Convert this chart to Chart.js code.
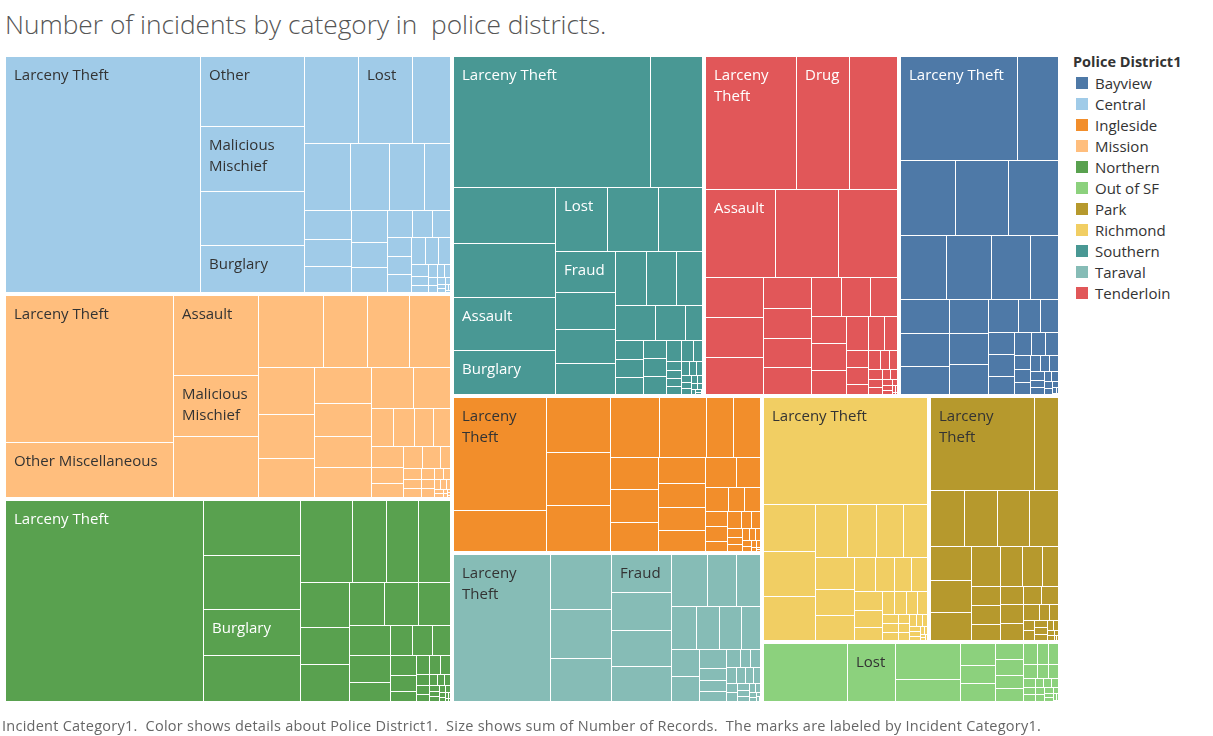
<!DOCTYPE html>
<html><head><meta charset="utf-8">
<script src="https://cdn.jsdelivr.net/npm/chart.js@4.4.0/dist/chart.umd.min.js"></script>
<style>
html,body{margin:0;padding:0;background:#fff;width:1213px;height:736px;overflow:hidden;font-family:"Open Sans",sans-serif;}
#title{position:absolute;left:5px;top:11px;font-size:26.3px;line-height:26.3px;font-weight:300;color:#555;white-space:pre;}
#wrap{position:absolute;left:0;top:0;width:1064px;height:736px;}
#legend{position:absolute;left:1073px;top:0;width:140px;height:320px;}
.lt{position:absolute;left:0;top:54px;font-size:14.5px;line-height:16px;font-weight:bold;color:#333;white-space:nowrap;}
.li{position:absolute;left:0;height:21px;font-size:15px;line-height:21px;color:#333;white-space:nowrap;}
.sw{position:absolute;left:3px;top:4px;width:12px;height:12px;}
.li span.tx{position:absolute;left:22px;top:0;}
#footer{position:absolute;left:2px;top:719px;font-size:14.5px;line-height:14.5px;letter-spacing:0.25px;color:#666;white-space:pre;}
</style></head>
<body>
<div id="title">Number of incidents by category in  police districts.</div>
<div id="wrap"><canvas id="c" width="1064" height="736"></canvas></div>
<div id="legend"></div>
<div id="footer">Incident Category1.  Color shows details about Police District1.  Size shows sum of Number of Records.  The marks are labeled by Incident Category1.</div>
<script>
// ---- data ----
const legendDistricts = ['Bayview','Central','Ingleside','Mission','Northern','Out of SF','Park','Richmond','Southern','Taraval','Tenderloin'];
const districtColors = ['#4e79a7','#a0cbe8','#f28e2b','#ffbe7d','#59a14f','#8cd17d','#b6992d','#f1ce63','#499894','#86bcb6','#e15759'];
const labelColors = ['#ffffff','#333333','#333333','#333333','#ffffff','#333333','#333333','#333333','#ffffff','#333333','#ffffff'];

const centralCategories = ['Larceny Theft','Other','Malicious Mischief','Motor Vehicle Theft','Burglary','Non-Criminal','Lost','Warrant','Assault','Robbery','Fraud','Drug','Suspicious Occ','Recovered Vehicle','Missing Person','Disorderly Conduct','Other Offenses','Miscellaneous Investigation','Stolen Property','Traffic Violation Arrest','Weapons Offense','Vandalism','Forgery And Counterfeiting','Offences Against The Family And Children','Case Closure','Courtesy Report','Fire Report','Traffic Collision','Embezzlement','Sex Offense','Prostitution','Arson','Vehicle Misplaced','Vehicle Impounded','Liquor Laws','Rape','Homicide','Gambling','Human Trafficking','Suicide','Civil Sidewalks','Weapons Carrying Etc'];
const centralValues = [45396,7249,6656,5616,4826,4670,4650,3254,3050,2586,2321,1704,1363,1269,1189,1152,900,875,667,548,478,450,419,418,386,343,324,208,156,109,108,96,80,70,60,50,40,30,25,18,12,8];

const missionCategories = ['Larceny Theft','Other Miscellaneous','Assault','Malicious Mischief','Non-Criminal','Burglary','Motor Vehicle Theft','Warrant','Robbery','Recovered Vehicle','Suspicious Occ','Missing Person','Disorderly Conduct','Lost','Other','Miscellaneous Investigation','Fraud','Drug','Other Offenses','Stolen Property','Traffic Violation Arrest','Weapons Offense','Vandalism','Offences Against The Family And Children','Forgery And Counterfeiting','Case Closure','Courtesy Report','Fire Report','Traffic Collision','Prostitution','Embezzlement','Sex Offense','Arson','Vehicle Misplaced','Vehicle Impounded','Liquor Laws','Rape','Homicide','Gambling','Human Trafficking','Suicide','Civil Sidewalks','Weapons Carrying Etc','Juvenile Offenses','Bad Checks','Loitering'];
const missionValues = [24400,9147,6775,5160,5100,4635,3137,2995,2973,2635,2395,2156,2080,1874,1776,1700,1690,1540,829,792,716,667,629,496,425,405,400,210,200,165,147,145,130,110,95,80,65,55,45,35,28,20,15,10,7,5];

const northernCategories = ['Larceny Theft','Other Miscellaneous','Malicious Mischief','Burglary','Recovered Vehicle','Non-Criminal','Other','Lost','Drug','Warrant','Robbery','Suspicious Occ','Fraud','Other Offenses','Missing Person','Assault','Motor Vehicle Theft','Disorderly Conduct','Miscellaneous Investigation','Stolen Property','Traffic Violation Arrest','Weapons Offense','Vandalism','Offences Against The Family And Children','Forgery And Counterfeiting','Case Closure','Courtesy Report','Fire Report','Traffic Collision','Embezzlement','Sex Offense','Prostitution','Arson','Vehicle Misplaced','Vehicle Impounded','Liquor Laws','Rape','Homicide','Gambling','Human Trafficking','Suicide','Civil Sidewalks','Weapons Carrying Etc','Juvenile Offenses'];
const northernValues = [39519,5306,5238,4462,4433,4248,2690,2640,2620,2191,1802,1787,1507,1452,1353,1251,1115,772,667,576,567,500,400,242,238,201,196,150,120,100,90,80,70,60,50,45,40,35,30,25,20,15,10,7];

const southernCategories = ['Larceny Theft','Non-Criminal','Other Miscellaneous','Malicious Mischief','Assault','Burglary','Lost','Robbery','Other','Fraud','Warrant','Motor Vehicle Theft','Recovered Vehicle','Drug','Suspicious Occ','Missing Person','Vandalism','Disorderly Conduct','Other Offenses','Stolen Property','Miscellaneous Investigation','Traffic Violation Arrest','Weapons Offense','Offences Against The Family And Children','Forgery And Counterfeiting','Case Closure','Courtesy Report','Fire Report','Traffic Collision','Embezzlement','Sex Offense','Prostitution','Arson','Vehicle Misplaced','Vehicle Impounded','Liquor Laws','Rape','Homicide','Gambling','Human Trafficking','Suicide','Civil Sidewalks','Weapons Carrying Etc','Juvenile Offenses','Bad Checks','Loitering'];
const southernValues = [25643,6657,5617,5416,5316,4383,3312,3249,2720,2466,2209,2012,1851,1690,1566,1388,1380,1037,562,533,528,469,410,405,400,325,243,187,131,130,125,115,100,90,80,70,60,55,45,40,35,28,20,15,10,5];

const tenderloinCategories = ['Larceny Theft','Drug','Non-Criminal','Assault','Other Miscellaneous','Malicious Mischief','Burglary','Robbery','Warrant','Lost','Other','Fraud','Suspicious Occ','Motor Vehicle Theft','Recovered Vehicle','Missing Person','Disorderly Conduct','Other Offenses','Stolen Property','Weapons Offense','Miscellaneous Investigation','Traffic Violation Arrest','Prostitution','Vandalism','Offences Against The Family And Children','Forgery And Counterfeiting','Case Closure','Courtesy Report','Fire Report','Traffic Collision','Embezzlement','Sex Offense','Arson','Vehicle Misplaced','Vehicle Impounded','Liquor Laws','Rape','Homicide','Gambling','Human Trafficking','Suicide'];
const tenderloinValues = [12090,7025,6398,6113,5525,5148,2310,2300,2118,1488,1440,1392,1282,1161,1122,1033,955,945,830,755,549,436,389,359,230,228,160,157,130,110,90,80,70,60,50,40,30,22,15,8,4];

const bayviewCategories = ['Larceny Theft','Other Miscellaneous','Assault','Malicious Mischief','Non-Criminal','Burglary','Motor Vehicle Theft','Drug','Lost','Recovered Vehicle','Warrant','Robbery','Other','Fraud','Suspicious Occ','Missing Person','Disorderly Conduct','Other Offenses','Weapons Offense','Stolen Property','Miscellaneous Investigation','Traffic Violation Arrest','Vandalism','Offences Against The Family And Children','Forgery And Counterfeiting','Case Closure','Courtesy Report','Fire Report','Traffic Collision','Embezzlement','Sex Offense','Prostitution','Arson','Vehicle Misplaced','Vehicle Impounded','Liquor Laws','Rape','Homicide','Gambling','Human Trafficking','Suicide'];
const bayviewValues = [12172,4245,4103,3975,3728,2925,2880,2496,1773,1656,1607,1364,1326,1209,1170,990,726,584,570,568,455,398,322,292,229,209,197,156,148,144,120,100,90,75,65,55,45,35,25,15,7];

const inglesideCategories = ['Larceny Theft','Other Miscellaneous','Malicious Mischief','Non-Criminal','Burglary','Assault','Motor Vehicle Theft','Lost','Drug','Recovered Vehicle','Warrant','Robbery','Other','Fraud','Suspicious Occ','Missing Person','Disorderly Conduct','Other Offenses','Stolen Property','Traffic Violation Arrest','Weapons Offense','Vandalism','Miscellaneous Investigation','Offences Against The Family And Children','Forgery And Counterfeiting','Case Closure','Courtesy Report','Fire Report','Traffic Collision','Embezzlement','Sex Offense','Prostitution','Arson','Vehicle Misplaced','Vehicle Impounded','Liquor Laws','Rape','Homicide','Gambling','Human Trafficking'];
const inglesideValues = [10439,3800,3511,3400,2962,2919,2799,1635,1594,1573,1553,1379,1222,1096,1066,972,960,734,557,387,380,344,337,223,221,172,150,133,112,97,87,72,61,51,41,33,25,18,10,6];

const taravalCategories = ['Larceny Theft','Non-Criminal','Malicious Mischief','Burglary','Fraud','Suspicious Occ','Motor Vehicle Theft','Assault','Lost','Drug','Robbery','Other','Other Miscellaneous','Warrant','Recovered Vehicle','Missing Person','Disorderly Conduct','Other Offenses','Stolen Property','Traffic Violation Arrest','Weapons Offense','Vandalism','Miscellaneous Investigation','Offences Against The Family And Children','Forgery And Counterfeiting','Case Closure','Courtesy Report','Fire Report','Traffic Collision','Embezzlement','Sex Offense','Prostitution','Arson','Vehicle Misplaced','Vehicle Impounded','Liquor Laws','Rape','Homicide','Gambling','Human Trafficking'];
const taravalValues = [14204,3372,3004,2600,2300,2250,2190,2100,1913,1505,1292,1065,979,908,823,772,706,524,337,299,276,239,196,172,161,148,128,112,102,92,82,72,61,51,46,36,29,20,12,7];

const richmondCategories = ['Larceny Theft','Non-Criminal','Malicious Mischief','Burglary','Assault','Lost','Other','Drug','Other Miscellaneous','Motor Vehicle Theft','Fraud','Recovered Vehicle','Warrant','Robbery','Suspicious Occ','Missing Person','Disorderly Conduct','Other Offenses','Stolen Property','Traffic Violation Arrest','Weapons Offense','Vandalism','Miscellaneous Investigation','Offences Against The Family And Children','Forgery And Counterfeiting','Case Closure','Courtesy Report','Fire Report','Traffic Collision','Embezzlement','Sex Offense','Prostitution','Arson','Vehicle Misplaced','Vehicle Impounded','Liquor Laws','Rape','Homicide','Gambling'];
const richmondValues = [17533,2456,2371,2281,1667,1560,1398,1274,1269,1010,943,738,633,598,552,511,475,355,277,271,259,223,150,145,124,114,103,93,83,72,62,52,47,41,31,26,21,14,10];

const parkCategories = ['Larceny Theft','Other Miscellaneous','Non-Criminal','Malicious Mischief','Burglary','Assault','Motor Vehicle Theft','Lost','Drug','Recovered Vehicle','Warrant','Robbery','Other','Fraud','Suspicious Occ','Missing Person','Disorderly Conduct','Other Offenses','Stolen Property','Traffic Violation Arrest','Weapons Offense','Vandalism','Miscellaneous Investigation','Offences Against The Family And Children','Forgery And Counterfeiting','Case Closure','Courtesy Report','Fire Report','Traffic Collision','Embezzlement','Sex Offense','Prostitution','Arson','Vehicle Misplaced','Vehicle Impounded','Liquor Laws'];
const parkValues = [9707,2219,1935,1895,1837,1648,1389,1294,1155,1148,880,800,627,565,535,476,429,428,394,337,312,251,154,133,118,103,92,82,72,62,51,41,31,23,14,8];

const outOfSFCategories = ['Non-Criminal','Lost','Larceny Theft','Other Miscellaneous','Fraud','Assault','Malicious Mischief','Other','Burglary','Drug','Warrant','Motor Vehicle Theft','Recovered Vehicle','Robbery','Suspicious Occ','Missing Person','Disorderly Conduct','Other Offenses','Stolen Property','Traffic Violation Arrest','Weapons Offense','Vandalism','Miscellaneous Investigation','Offences Against The Family And Children','Forgery And Counterfeiting','Case Closure','Courtesy Report','Fire Report','Traffic Collision','Embezzlement','Sex Offense','Prostitution'];
const outOfSFValues = [5029,2898,2433,1438,822,652,642,484,464,377,368,315,248,217,191,155,144,109,93,83,78,72,67,62,57,52,41,36,29,21,16,8];

// ---- assemble groups from the arrays ----
const groupSources = {
  'Bayview':[bayviewCategories,bayviewValues],
  'Central':[centralCategories,centralValues],
  'Ingleside':[inglesideCategories,inglesideValues],
  'Mission':[missionCategories,missionValues],
  'Northern':[northernCategories,northernValues],
  'Out of SF':[outOfSFCategories,outOfSFValues],
  'Park':[parkCategories,parkValues],
  'Richmond':[richmondCategories,richmondValues],
  'Southern':[southernCategories,southernValues],
  'Taraval':[taravalCategories,taravalValues],
  'Tenderloin':[tenderloinCategories,tenderloinValues]
};
const groups = legendDistricts.map((name, i) => {
  const [cats, vals] = groupSources[name];
  const children = cats.map((c, k) => ({ label: c, v: vals[k] })).sort((a, b) => b.v - a.v);
  return { label: name, color: districtColors[i], textColor: labelColors[i], children,
           v: vals.reduce((a, b) => a + b, 0) };
}).sort((a, b) => b.v - a.v);

// ---- legend (HTML) ----
const lg = document.getElementById('legend');
lg.innerHTML = '<div class="lt">Police District1</div>' + legendDistricts.map((d, i) =>
  '<div class="li" style="top:' + (73 + i * 21) + 'px"><span class="sw" style="background:' + districtColors[i] + '"></span><span class="tx">' + d + '</span></div>').join('');

// ---- squarified layout (target cell aspect = golden ratio, strips along the shorter side) ----
const TARGET = 1.618;
function squarify(items, X, Y, W, H) {
  const out = [];
  const total = items.reduce((s, d) => s + d.v, 0);
  if (total <= 0) return out;
  const scale = W * H / total;
  let i = 0;
  while (i < items.length) {
    const alongW = W <= H;
    const len = alongW ? W : H;
    const worst = (a, b) => {
      let s = 0; for (let k = a; k < b; k++) s += items[k].v * scale;
      const t = s / len; let m = 0;
      for (let k = a; k < b; k++) { const r = t * t / (items[k].v * scale); m = Math.max(m, r / TARGET, TARGET / r); }
      return m;
    };
    let j = i + 1, best = worst(i, j);
    while (j < items.length) { const c = worst(i, j + 1); if (c <= best) { best = c; j++; } else break; }
    let s = 0; for (let k = i; k < j; k++) s += items[k].v * scale;
    const t = s / len;
    let off = 0;
    for (let k = i; k < j; k++) {
      const l = items[k].v * scale / t;
      if (alongW) out.push({ item: items[k], x0: X + off, y0: Y, x1: X + off + l, y1: Y + t });
      else out.push({ item: items[k], x0: X, y0: Y + off, x1: X + t, y1: Y + off + l });
      off += l;
    }
    if (alongW) { Y += t; H -= t; } else { X += t; W -= t; }
    i = j;
  }
  return out;
}

const LABEL_FONT = '15px "Open Sans"';
function wrapLabel(ctx, text, maxW) {
  const words = text.split(' ');
  const lines = []; let cur = '';
  for (const w of words) {
    if (ctx.measureText(w).width > maxW) return null;
    const cand = cur ? cur + ' ' + w : w;
    if (ctx.measureText(cand).width <= maxW) cur = cand; else { lines.push(cur); cur = w; }
  }
  if (cur) lines.push(cur);
  return lines;
}

const treemapPlugin = {
  id: 'treemapCells',
  afterDraw(chart, args, opts) {
    const xs = chart.scales.x, ys = chart.scales.y, ctx = chart.ctx;
    const L = xs.getPixelForValue(0), R = xs.getPixelForValue(1);
    const T = ys.getPixelForValue(0), B = ys.getPixelForValue(1);
    const districtRects = squarify(opts.groups, L, T, R - L, B - T);
    ctx.save();
    ctx.font = LABEL_FONT;
    ctx.textBaseline = 'alphabetic';
    for (const d of districtRects) {
      const g = d.item;
      const cells = squarify(g.children, d.x0 + 2, d.y0 + 2, (d.x1 - 1) - (d.x0 + 2), (d.y1 - 1) - (d.y0 + 2));
      for (const c of cells) {
        const x0 = Math.round(c.x0), y0 = Math.round(c.y0), x1 = Math.round(c.x1), y1 = Math.round(c.y1);
        const w = x1 - x0 - 1, h = y1 - y0 - 1;
        if (w <= 0 || h <= 0) continue;
        ctx.fillStyle = g.color;
        ctx.fillRect(x0, y0, w, h);
        const lines = wrapLabel(ctx, c.item.label, w - 14);
        if (lines && lines.length * 21 + 14 <= h) {
          ctx.fillStyle = g.textColor;
          lines.forEach((ln, k) => ctx.fillText(ln, x0 + 8, y0 + 23 + k * 21));
        }
      }
    }
    ctx.restore();
  }
};

new Chart(document.getElementById('c'), {
  type: 'scatter',
  data: { datasets: [] },
  options: {
    responsive: false,
    animation: false,
    events: [],
    layout: { padding: { left: 4, top: 55, right: 4, bottom: 33 } },
    scales: {
      x: { type: 'linear', min: 0, max: 1, display: false },
      y: { type: 'linear', min: 0, max: 1, reverse: true, display: false }
    },
    plugins: { legend: { display: false }, tooltip: { enabled: false }, treemapCells: { groups } }
  },
  plugins: [treemapPlugin]
});
</script>
</body></html>
